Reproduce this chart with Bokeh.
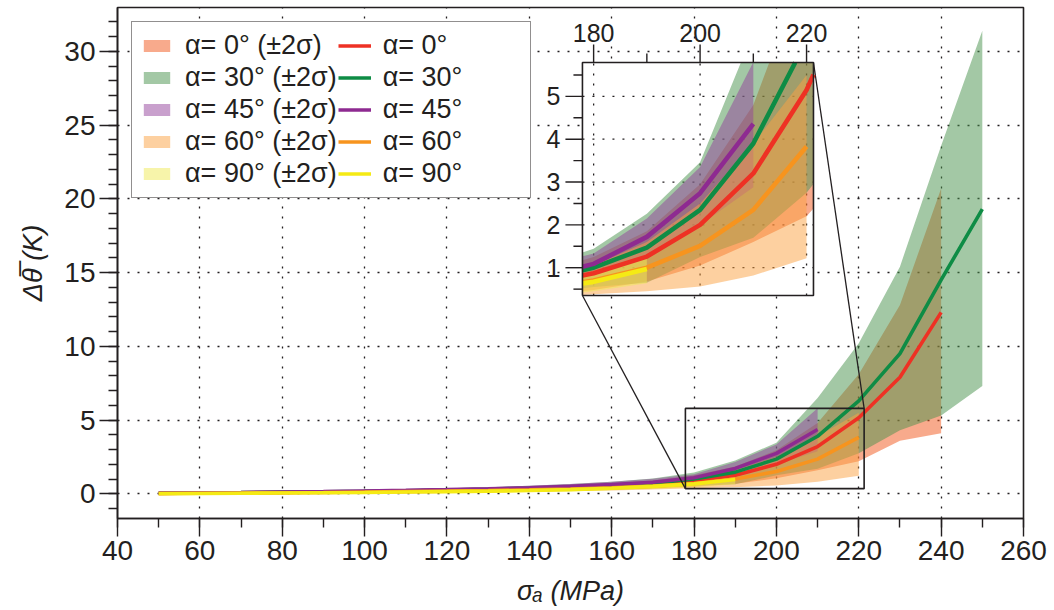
import numpy as np
from bokeh.plotting import figure
from bokeh.models import Range1d, SingleIntervalTicker, Legend, LegendItem
from bokeh.embed import file_html
from bokeh.resources import INLINE
from bokeh.core.properties import value

FONT = "Liberation Sans"
INK = "#231F20"

# ---------------- data ----------------
x_a0 = [50, 60, 70, 80, 90, 100, 110, 120, 130, 140, 150, 160, 170, 180, 190, 200, 210, 220, 230, 240]
mean_a0 = [0.03, 0.05, 0.07, 0.09, 0.12, 0.15, 0.19, 0.23, 0.28, 0.34, 0.41, 0.50, 0.63, 0.87, 1.26, 2.00, 3.20, 5.15, 7.90, 12.30]
low_a0 = [0.02, 0.03, 0.04, 0.05, 0.07, 0.09, 0.11, 0.13, 0.16, 0.19, 0.23, 0.28, 0.36, 0.48, 0.68, 1.05, 1.60, 2.20, 3.60, 4.10]
up_a0 = [0.04, 0.07, 0.10, 0.13, 0.17, 0.21, 0.27, 0.33, 0.40, 0.49, 0.59, 0.72, 0.90, 1.25, 1.85, 2.95, 4.80, 8.10, 12.80, 20.70]

x_a30 = [50, 60, 70, 80, 90, 100, 110, 120, 130, 140, 150, 160, 170, 180, 190, 200, 210, 220, 230, 240, 250]
mean_a30 = [0.04, 0.06, 0.08, 0.11, 0.14, 0.17, 0.21, 0.26, 0.31, 0.38, 0.46, 0.57, 0.72, 1.00, 1.47, 2.35, 3.90, 6.30, 9.50, 14.50, 19.30]
low_a30 = [0.02, 0.03, 0.05, 0.06, 0.08, 0.10, 0.12, 0.15, 0.18, 0.22, 0.26, 0.32, 0.40, 0.55, 0.65, 1.25, 1.70, 2.75, 4.30, 5.30, 7.30]
up_a30 = [0.06, 0.09, 0.11, 0.16, 0.20, 0.24, 0.30, 0.37, 0.44, 0.54, 0.66, 0.82, 1.04, 1.44, 2.26, 3.46, 6.50, 10.20, 15.40, 23.60, 31.40]

x_a45 = [50, 60, 70, 80, 90, 100, 110, 120, 130, 140, 150, 160, 170, 180, 190, 200, 210]
mean_a45 = [0.05, 0.07, 0.09, 0.12, 0.15, 0.19, 0.23, 0.28, 0.34, 0.41, 0.50, 0.62, 0.78, 1.09, 1.72, 2.74, 4.36]
low_a45 = [0.03, 0.04, 0.06, 0.08, 0.10, 0.13, 0.16, 0.19, 0.23, 0.28, 0.34, 0.42, 0.54, 0.85, 1.30, 2.00, 2.88]
up_a45 = [0.07, 0.10, 0.12, 0.16, 0.20, 0.25, 0.30, 0.37, 0.45, 0.54, 0.66, 0.82, 1.02, 1.33, 2.15, 3.35, 5.80]

x_a60 = [50, 60, 70, 80, 90, 100, 110, 120, 130, 140, 150, 160, 170, 180, 190, 200, 210, 220]
mean_a60 = [0.02, 0.04, 0.05, 0.07, 0.09, 0.12, 0.15, 0.18, 0.22, 0.27, 0.33, 0.41, 0.52, 0.70, 1.00, 1.51, 2.35, 3.83]
low_a60 = [0.01, 0.02, 0.03, 0.04, 0.05, 0.07, 0.09, 0.11, 0.13, 0.16, 0.19, 0.23, 0.29, 0.38, 0.45, 0.56, 0.82, 1.22]
up_a60 = [0.03, 0.06, 0.07, 0.10, 0.13, 0.17, 0.21, 0.25, 0.31, 0.38, 0.47, 0.59, 0.75, 1.05, 1.60, 2.50, 3.90, 5.50]

x_a90 = [50, 60, 70, 80, 90, 100, 110, 120, 130, 140, 150, 160, 170, 180, 190]
mean_a90 = [0.01, 0.02, 0.04, 0.05, 0.07, 0.09, 0.12, 0.15, 0.18, 0.22, 0.28, 0.38, 0.50, 0.67, 0.97]
low_a90 = [0.00, 0.01, 0.02, 0.03, 0.04, 0.05, 0.07, 0.09, 0.11, 0.13, 0.17, 0.24, 0.32, 0.45, 0.64]
up_a90 = [0.02, 0.03, 0.06, 0.07, 0.10, 0.13, 0.17, 0.21, 0.25, 0.31, 0.39, 0.52, 0.68, 0.90, 1.25]

band_labels = ["α= 0° (±2σ)", "α= 30° (±2σ)", "α= 45° (±2σ)", "α= 60° (±2σ)", "α= 90° (±2σ)"]
line_labels = ["α= 0°", "α= 30°", "α= 45°", "α= 60°", "α= 90°"]
line_colors = ["#EE3124", "#0E8C45", "#8E2A91", "#F7941E", "#F5EA14"]
band_colors = ["#F15519", "#47914B", "#93419B", "#FBA141", "#EFE955"]

x_ticks_inset = [180, 200, 220]
y_ticks_inset = [1, 2, 3, 4, 5]

# ---------------- layout constants ----------------
INSET_X = (177.9, 221.3)          # zoomed window (data)
INSET_Y = (0.35, 5.79)
INSET_TX = (152.9, 209.0)         # where the inset sits, in main data coords
INSET_TY = (13.44, 29.24)
INSET_PX_W, INSET_PX_H = 231.0, 233.0
LEGEND_PAD = " " * 8              # legend columns of equal width, as in the original

series = [
    (x_a0, mean_a0, low_a0, up_a0),
    (x_a30, mean_a30, low_a30, up_a30),
    (x_a45, mean_a45, low_a45, up_a45),
    (x_a60, mean_a60, low_a60, up_a60),
    (x_a90, mean_a90, low_a90, up_a90),
]

p = figure(frame_width=906, frame_height=511,
           x_range=Range1d(40, 260), y_range=Range1d(-1.675, 32.97),
           output_backend="svg", toolbar_location=None,
           min_border_left=117, min_border_right=25, min_border_top=7, min_border_bottom=82,
           background_fill_color="white", border_fill_color="white")
p.outline_line_color = INK
p.outline_line_width = 1.6
p.outline_line_alpha = 1.0

p.xaxis.ticker = SingleIntervalTicker(interval=20, num_minor_ticks=2)
p.yaxis.ticker = SingleIntervalTicker(interval=5, num_minor_ticks=5)
for ax in (p.xaxis[0], p.yaxis[0]):
    ax.major_tick_out = 18
    ax.major_tick_in = 0
    ax.minor_tick_out = 9
    ax.minor_tick_in = 0
    ax.axis_line_color = INK
    ax.axis_line_width = 1.6
    ax.major_tick_line_color = INK
    ax.major_tick_line_width = 1.4
    ax.minor_tick_line_color = INK
    ax.minor_tick_line_width = 1.4
    ax.major_label_text_font = FONT
    ax.major_label_text_font_size = "28px"
    ax.major_label_text_color = INK
    ax.major_label_standoff = 4
    ax.axis_label_text_font = FONT
    ax.axis_label_text_font_size = "27px"
    ax.axis_label_text_font_style = "italic"
    ax.axis_label_text_color = INK
    ax.axis_label_standoff = 13
p.xaxis.axis_label = "σₐ (MPa)"
p.yaxis.axis_label = "Δθ̅ (K)"

for g in (p.xgrid[0], p.ygrid[0]):
    g.grid_line_color = INK
    g.grid_line_dash = "2 8"
    g.grid_line_width = 1.3

band_r = []
line_r = []
for (xs, m, lo, up), bc in zip(series, band_colors):
    band_r.append(p.varea(x=xs, y1=lo, y2=up, fill_color=bc, fill_alpha=0.5))
for (xs, m, lo, up), lc in zip(series, line_colors):
    line_r.append(p.line(x=xs, y=m, line_color=lc, line_width=3.6))

# zoom rectangle and connectors
p.quad(left=[INSET_X[0]], right=[INSET_X[1]], bottom=[INSET_Y[0]], top=[INSET_Y[1]],
       fill_alpha=0, line_color=INK, line_width=1.6)
p.segment(x0=[INSET_X[0], INSET_X[1]], y0=[INSET_Y[0], INSET_Y[1]],
          x1=[INSET_TX[0], INSET_TX[1]], y1=[INSET_TY[0], INSET_TY[1]],
          line_color=INK, line_width=1.3)

# ---------------- inset ----------------
sub = p.subplot(x_source=Range1d(*INSET_X), y_source=Range1d(*INSET_Y),
                x_target=Range1d(*INSET_TX), y_target=Range1d(*INSET_TY))

xmin, xmax = INSET_X
ymin, ymax = INSET_Y
ux = (xmax - xmin) / INSET_PX_W   # data units per pixel
uy = (ymax - ymin) / INSET_PX_H


def clip_polygon(pts):
    def clip(pts, inside, inter):
        out = []
        n = len(pts)
        for i in range(n):
            cur, prev = pts[i], pts[i - 1]
            if inside(cur):
                if not inside(prev):
                    out.append(inter(prev, cur))
                out.append(cur)
            elif inside(prev):
                out.append(inter(prev, cur))
        return out

    def ix(a, b, xv):
        t = (xv - a[0]) / (b[0] - a[0])
        return (xv, a[1] + t * (b[1] - a[1]))

    def iy(a, b, yv):
        t = (yv - a[1]) / (b[1] - a[1])
        return (a[0] + t * (b[0] - a[0]), yv)

    for inside, inter in (
        (lambda q: q[0] >= xmin, lambda a, b: ix(a, b, xmin)),
        (lambda q: q[0] <= xmax, lambda a, b: ix(a, b, xmax)),
        (lambda q: q[1] >= ymin, lambda a, b: iy(a, b, ymin)),
        (lambda q: q[1] <= ymax, lambda a, b: iy(a, b, ymax)),
    ):
        if not pts:
            break
        pts = clip(pts, inside, inter)
    return pts


def clip_segment(x0, y0, x1, y1):
    dx, dy = x1 - x0, y1 - y0
    t0, t1 = 0.0, 1.0
    for pp, qq in ((-dx, x0 - xmin), (dx, xmax - x0), (-dy, y0 - ymin), (dy, ymax - y0)):
        if pp == 0:
            if qq < 0:
                return None
        else:
            r = qq / pp
            if pp < 0:
                t0 = max(t0, r)
            else:
                t1 = min(t1, r)
    if t0 > t1:
        return None
    return (x0 + t0 * dx, y0 + t0 * dy), (x0 + t1 * dx, y0 + t1 * dy)


def clip_polyline(xs, ys):
    pieces, cur = [], []
    for i in range(len(xs) - 1):
        seg = clip_segment(xs[i], ys[i], xs[i + 1], ys[i + 1])
        if seg is None:
            if cur:
                pieces.append(cur)
                cur = []
            continue
        a, b = seg
        if cur and abs(cur[-1][0] - a[0]) < 1e-9 and abs(cur[-1][1] - a[1]) < 1e-9:
            cur.append(b)
        else:
            if cur:
                pieces.append(cur)
            cur = [a, b]
    if cur:
        pieces.append(cur)
    return pieces


# white background of inset
sub.quad(left=[xmin], right=[xmax], bottom=[ymin], top=[ymax], fill_color="white", line_alpha=0)
# inset dotted grid
sub.segment(x0=x_ticks_inset, y0=[ymin] * 3, x1=x_ticks_inset, y1=[ymax] * 3,
            line_color=INK, line_dash="2 8", line_width=1.3)
sub.segment(x0=[xmin] * 5, y0=y_ticks_inset, x1=[xmax] * 5, y1=y_ticks_inset,
            line_color=INK, line_dash="2 8", line_width=1.3)

for (xs, m, lo, up), bc in zip(series, band_colors):
    poly = [(a, b) for a, b in zip(xs, up)] + [(a, b) for a, b in zip(xs[::-1], lo[::-1])]
    cp = clip_polygon(poly)
    if len(cp) >= 3:
        sub.patch(x=[q[0] for q in cp], y=[q[1] for q in cp], fill_color=bc, fill_alpha=0.5, line_alpha=0)
for (xs, m, lo, up), lc in zip(series, line_colors):
    for piece in clip_polyline(xs, m):
        sub.line(x=[q[0] for q in piece], y=[q[1] for q in piece], line_color=lc, line_width=4.6)

sub.quad(left=[xmin], right=[xmax], bottom=[ymin], top=[ymax], fill_alpha=0, line_color=INK, line_width=1.6)

# inset left ticks
maj_y = y_ticks_inset
min_y = [0.5, 1.5, 2.5, 3.5, 4.5, 5.5]
sub.segment(x0=[xmin - 17 * ux] * len(maj_y), y0=maj_y, x1=[xmin] * len(maj_y), y1=maj_y,
            line_color=INK, line_width=1.4)
sub.segment(x0=[xmin - 9 * ux] * len(min_y), y0=min_y, x1=[xmin] * len(min_y), y1=min_y,
            line_color=INK, line_width=1.4)
sub.text(x=[xmin] * len(maj_y), y=maj_y, text=[str(v) for v in maj_y], x_offset=-22,
         text_align="right", text_baseline="middle", text_font=value(FONT),
         text_font_size="25px", text_color=INK)
# inset top ticks
maj_x = x_ticks_inset
min_x = [190, 210]
sub.segment(x0=maj_x, y0=[ymax] * 3, x1=maj_x, y1=[ymax + 18 * uy] * 3, line_color=INK, line_width=1.4)
sub.segment(x0=min_x, y0=[ymax] * 2, x1=min_x, y1=[ymax + 9 * uy] * 2, line_color=INK, line_width=1.4)
sub.text(x=maj_x, y=[ymax] * 3, text=[str(v) for v in maj_x], y_offset=-21,
         text_align="center", text_baseline="bottom", text_font=value(FONT),
         text_font_size="25px", text_color=INK)

# ---------------- legend ----------------
items = [LegendItem(label=l, renderers=[r]) for l, r in zip(band_labels, band_r)] + \
        [LegendItem(label=l + LEGEND_PAD, renderers=[r]) for l, r in zip(line_labels, line_r)]
legend = Legend(items=items, ncols=2, location="top_left", margin=14, padding=8,
                spacing=1, glyph_width=33, glyph_height=15, label_standoff=12,
                label_text_font=FONT, label_text_font_size="27px", label_text_color=INK,
                border_line_color=INK, border_line_width=1.6, background_fill_alpha=1.0,
                background_fill_color="white")
p.add_layout(legend)

open("out.html", "w").write(file_html(p, INLINE))
